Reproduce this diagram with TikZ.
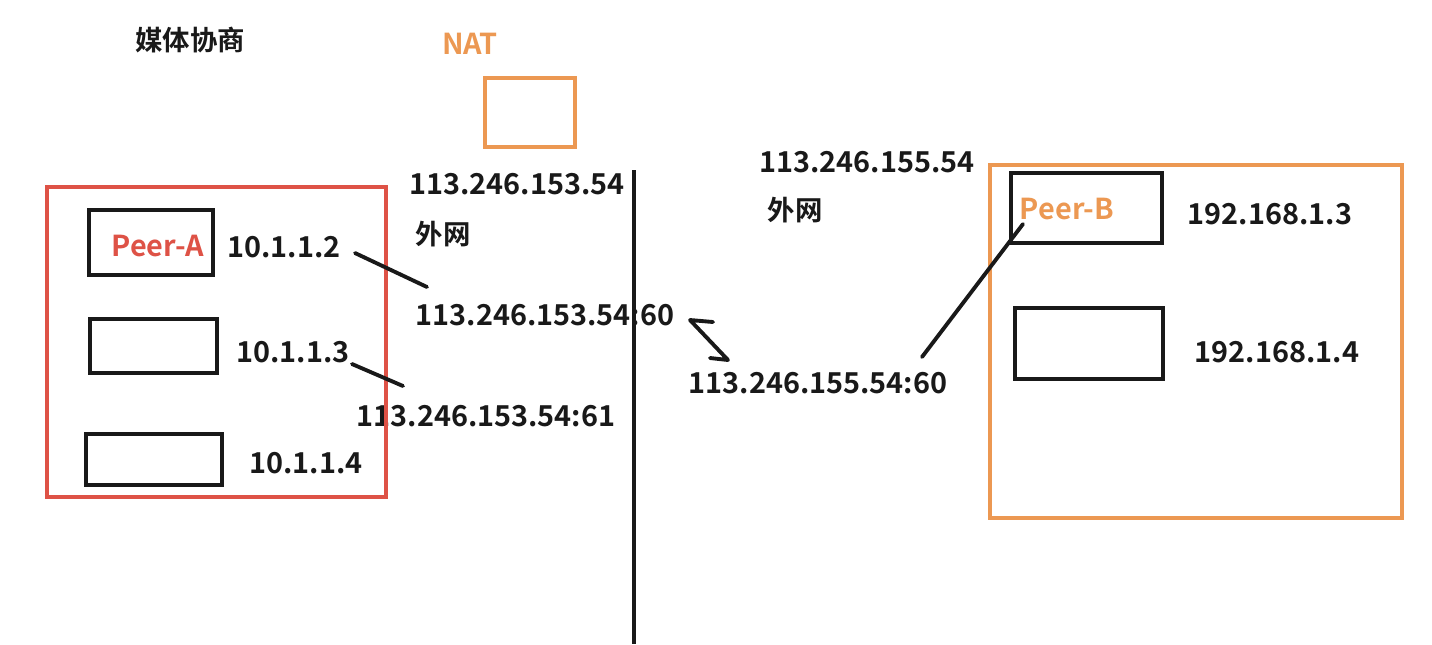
\documentclass[tikz,border=0pt]{standalone}
\usepackage{fontspec}
\setmainfont{Noto Sans CJK SC}[BoldFont={* Bold}]
\definecolor{natorange}{RGB}{236,152,82}
\definecolor{peerred}{RGB}{222,82,70}
\begin{document}
\begin{tikzpicture}[x=0.01cm,y=-0.01cm,
  lbl/.style={font=\bfseries\fontsize{8.2}{10}\selectfont, inner sep=0pt, text=black!90},
  cjk/.style={font=\bfseries\fontsize{7.8}{9}\selectfont, inner sep=0pt, text=black!90},
  hostbox/.style={draw=black!90, line width=1.1pt},
  orangebox/.style={draw=natorange, line width=1.1pt},
  redbox/.style={draw=peerred, line width=1.1pt},
  link/.style={draw=black!90, line width=1.1pt, line cap=round, line join=round}]
\useasboundingbox (0,0) rectangle (1432,644);
\fill[white] (0,0) rectangle (1432,644);

% title and NAT
\node[cjk] (title) at (190,40) {媒体协商};
\node[lbl, text=natorange] (natlbl) at (470,44) {NAT};
\draw[orangebox] (485,78) rectangle (575,147);

% left public labels
\node[lbl] (pubA) at (517,184) {113.246.153.54};
\node[cjk] (wwA) at (443,234) {外网};
\node[lbl] (mapA60) at (545,315) {113.246.153.54:60};
\node[lbl] (mapA61) at (486,416) {113.246.153.54:61};

% divider
\draw[line width=1pt, black!90] (634,170) -- (634,644);

% left private network
\draw[redbox] (47,187) rectangle (386,497);
\draw[hostbox] (89,210) rectangle (213,275);
\node[lbl, text=peerred] (peerA) at (158,246) {Peer-A};
\node[lbl] (ipA2) at (284,247) {10.1.1.2};
\draw[hostbox] (90,319) rectangle (217,373);
\node[lbl] (ipA3) at (293,352) {10.1.1.3};
\draw[hostbox] (86,434) rectangle (222,485);
\node[lbl] (ipA4) at (306,463) {10.1.1.4};

% right public labels
\node[lbl] (pubB) at (867,162) {113.246.155.54};
\node[cjk] (wwB) at (795,210) {外网};
\node[lbl] (mapB60) at (818,383) {113.246.155.54:60};

% right private network
\draw[orangebox] (990,165) rectangle (1402,518);
\draw[hostbox] (1011,173) rectangle (1162,243);
\node[lbl, text=natorange] (peerB) at (1067,209) {Peer-B};
\node[lbl] (ipB3) at (1270,214) {192.168.1.3};
\draw[hostbox] (1015,308) rectangle (1163,379);
\node[lbl] (ipB4) at (1277,352) {192.168.1.4};

% connector coordinates
\coordinate (a2s) at (355,253);
\coordinate (a2e) at (427,287);
\coordinate (a3s) at (352,364);
\coordinate (a3e) at (403,386);
\coordinate (z1) at (713,322);
\coordinate (z2) at (690,320);
\coordinate (z3) at (728,360);
\coordinate (z4) at (710,358);
\coordinate (bs) at (922,357);
\coordinate (be) at (1023,224);

\draw[link] (a2s) -- (a2e);
\draw[link] (a3s) -- (a3e);
\draw[link] (z1) -- (z2) -- (z3) -- (z4);
\draw[link] (bs) -- (be);
\end{tikzpicture}
\end{document}
